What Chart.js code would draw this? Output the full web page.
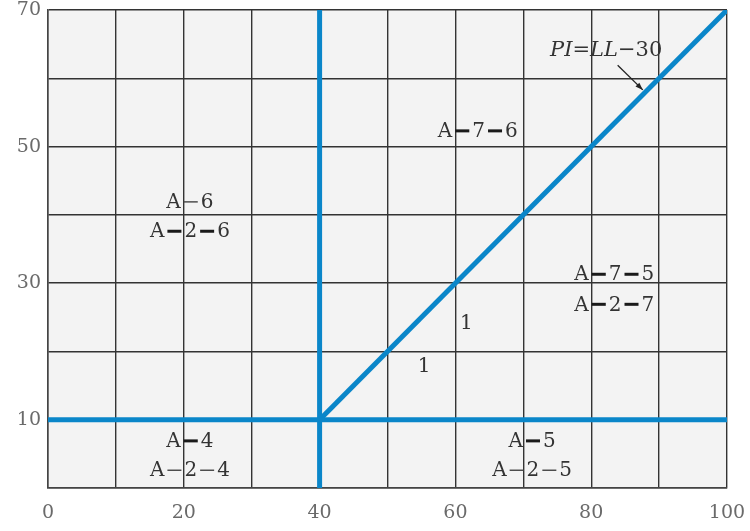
<!DOCTYPE html>
<html>
<head>
<meta charset="utf-8">
<script src="https://cdn.jsdelivr.net/npm/chart.js@4"></script>
<style>
  html, body { margin: 0; padding: 0; background: #fff; }
  #wrap { width: 750px; height: 531px; }
</style>
</head>
<body>
<div id="wrap"><canvas id="chart"></canvas></div>
<script>
// plasticity chart lines (LL on x, PI on y)
const horizLine = [{ x: 0, y: 10 }, { x: 100, y: 10 }];
const vertLine = [{ x: 40, y: 0 }, { x: 40, y: 70 }];
const aLine = [{ x: 40, y: 10 }, { x: 100, y: 70 }];

const xTickLabels = [0, 20, 40, 60, 80, 100];
const yTickLabels = [10, 30, 50, 70];

// group labels: text, LL, PI  ("-" is drawn as a bold dash, "\u2212" as a thin one)
const labelTexts = ["A-7-6", "A\u22126", "A-2-6", "A-7-5", "A-2-7", "A-4", "A\u22122\u22124", "A-5", "A\u22122\u22125", "1", "1"];
const labelX = [63.3, 20.9, 20.9, 83.4, 83.4, 20.9, 20.9, 71.3, 71.3, 61.6, 55.4];
const labelY = [52.3, 41.9, 37.6, 31.3, 26.9, 6.9, 2.6, 6.9, 2.6, 24.2, 17.9];

const blue = "#0a86c9";
const serif = "'DejaVu Serif', 'Liberation Serif', serif";

// draws the zone labels, the dashes and the PI=LL-30 callout
const labelsPlugin = {
  id: "zoneLabels",
  afterDatasetsDraw(chart) {
    const { ctx, scales: { x, y } } = chart;
    ctx.save();
    ctx.font = "20px " + serif;
    ctx.textBaseline = "middle";
    ctx.textAlign = "left";
    labelTexts.forEach((t, i) => {
      const parts = t.split(/[-\u2212]/);
      const dashes = t.match(/[-\u2212]/g) || [];
      const px = x.getPixelForValue(labelX[i]);
      const py = y.getPixelForValue(labelY[i]);
      const dashW = 20;
      const w = parts.reduce((s, p) => s + ctx.measureText(p).width, 0) + dashW * (parts.length - 1);
      let cx = px - w / 2;
      parts.forEach((p, j) => {
        if (j > 0) {
          const bold = dashes[j - 1] === "-";
          ctx.fillStyle = bold ? "#1a1a1a" : "#444";
          ctx.fillRect(cx + 3, py - (bold ? 1.5 : 0.7), dashW - 6, bold ? 3 : 1.4);
          cx += dashW;
        }
        ctx.fillStyle = "#333";
        ctx.fillText(p, cx, py + 1);
        cx += ctx.measureText(p).width;
      });
    });

    // PI=LL-30 callout
    const tx = x.getPixelForValue(82.2), ty = y.getPixelForValue(64.1);
    const segs = [["PI", true], ["=", false], ["LL", true], ["\u221230", false]];
    const fsz = "21px ";
    let total = 0;
    segs.forEach(s => { ctx.font = (s[1] ? "italic " : "") + fsz + serif; total += ctx.measureText(s[0]).width; });
    let sx = tx - total / 2;
    ctx.fillStyle = "#333";
    segs.forEach(s => {
      ctx.font = (s[1] ? "italic " : "") + fsz + serif;
      ctx.fillText(s[0], sx, ty);
      sx += ctx.measureText(s[0]).width;
    });
    const ax0 = x.getPixelForValue(83.9), ay0 = y.getPixelForValue(61.9);
    const ax1 = x.getPixelForValue(87.6), ay1 = y.getPixelForValue(58.3);
    ctx.strokeStyle = "#222";
    ctx.lineWidth = 1.3;
    ctx.beginPath();
    ctx.moveTo(ax0, ay0);
    ctx.lineTo(ax1, ay1);
    ctx.stroke();
    const ang = Math.atan2(ay1 - ay0, ax1 - ax0);
    ctx.beginPath();
    ctx.moveTo(ax1, ay1);
    ctx.lineTo(ax1 - 8 * Math.cos(ang - 0.35), ay1 - 8 * Math.sin(ang - 0.35));
    ctx.lineTo(ax1 - 8 * Math.cos(ang + 0.35), ay1 - 8 * Math.sin(ang + 0.35));
    ctx.closePath();
    ctx.fillStyle = "#222";
    ctx.fill();
    ctx.restore();
  }
};

const bgPlugin = {
  id: "plotBg",
  beforeDraw(chart) {
    const { ctx, chartArea: a } = chart;
    ctx.save();
    ctx.fillStyle = "#f3f3f3";
    ctx.fillRect(a.left, a.top, a.right - a.left, a.bottom - a.top);
    ctx.restore();
  }
};

const lineStyle = {
  showLine: true,
  borderColor: blue,
  borderWidth: 5,
  pointRadius: 0,
  fill: false
};

new Chart(document.getElementById("chart"), {
  type: "scatter",
  data: {
    datasets: [
      Object.assign({ data: horizLine }, lineStyle),
      Object.assign({ data: vertLine }, lineStyle),
      Object.assign({ data: aLine }, lineStyle)
    ]
  },
  options: {
    responsive: true,
    maintainAspectRatio: false,
    animation: false,
    layout: { padding: { top: 10, right: 23, left: 0, bottom: 0 } },
    plugins: { legend: { display: false }, tooltip: { enabled: false } },
    scales: {
      x: {
        type: "linear",
        min: 0, max: 100,
        afterFit(s) { s.height = 43; s.paddingLeft = 0; s.paddingRight = 0; },
        border: { color: "#444", width: 1.5 },
        grid: { color: "#333", lineWidth: 1.4, drawTicks: false },
        ticks: {
          stepSize: 10,
          padding: 14,
          color: "#6a6a6a",
          font: { family: serif, size: 19 },
          callback: v => xTickLabels.includes(v) ? String(v) : ""
        }
      },
      y: {
        type: "linear",
        min: 0, max: 70,
        afterFit(s) { s.width = 48; s.paddingTop = 0; s.paddingBottom = 0; },
        border: { color: "#444", width: 1.5 },
        grid: { color: "#333", lineWidth: 1.4, drawTicks: false },
        ticks: {
          stepSize: 10,
          padding: 7,
          color: "#6a6a6a",
          font: { family: serif, size: 19 },
          callback: v => yTickLabels.includes(v) ? String(v) : ""
        }
      }
    }
  },
  plugins: [bgPlugin, labelsPlugin]
});
</script>
</body>
</html>
